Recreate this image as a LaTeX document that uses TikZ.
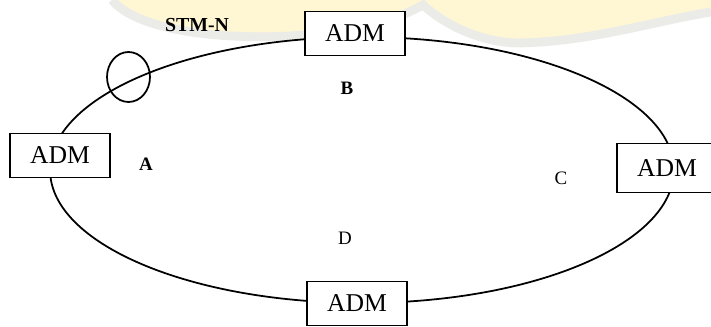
\documentclass[tikz,border=0pt]{standalone}
\usepackage{fontspec}
\setmainfont{Liberation Serif}
\usetikzlibrary{positioning, shapes, arrows}
\definecolor{paleyellow}{rgb}{1,0.965,0.83}
\definecolor{palegrey}{rgb}{0.92,0.92,0.91}

\begin{document}
\begin{tikzpicture}[x=0.02cm, y=-0.02cm]
\tikzstyle{adm}=[draw, fill=white, line width=1pt, minimum width=2cm, minimum height=0.88cm, inner sep=0pt, font=\fontsize{14.6}{16}\selectfont];
\tikzstyle{zone}=[inner sep=0pt, font=\fontsize{10.8}{12}\selectfont];
\tikzstyle{boldzone}=[inner sep=0pt, font=\fontsize{10.8}{12}\selectfont\bfseries];
\useasboundingbox (0,0) rectangle (711,327);
% faint banner in the background
\fill[paleyellow] (112,0) .. controls (135,28) and (210,40) .. (290,36)
  .. controls (360,32) and (400,18) .. (423,5)
  .. controls (445,25) and (480,42) .. (517,43)
  .. controls (590,42) and (650,22) .. (711,12) -- (711,0) -- cycle;
\draw[palegrey, line width=5pt] (112,0) .. controls (135,28) and (210,40) .. (290,36)
  .. controls (360,32) and (400,18) .. (423,5)
  .. controls (445,25) and (480,42) .. (517,43)
  .. controls (590,42) and (650,22) .. (711,12);
% the ring and its four multiplexers
\path (362,170) node[draw, ellipse, line width=1pt, minimum width=12.48cm, minimum height=5.32cm, inner sep=0pt] (ring) {};
\path (60,155.5) node[adm] (admA) {ADM};
\path (355,33.5) node[adm] (admB) {ADM};
\path (667,168) node[adm, minimum height=0.98cm] (admC) {ADM};
\path (357,303.5) node[adm] (admD) {ADM};
\path (128.5,77) node[draw, ellipse, line width=1pt, minimum width=0.86cm, minimum height=1cm, inner sep=0pt] (stm) {};
\path (197,25) node[boldzone, font=\fontsize{11.3}{12}\selectfont\bfseries] (stmlabel) {STM-N};
\path (146,164) node[boldzone] (zoneA) {A};
\path (347,88) node[boldzone] (zoneB) {B};
\path (561,178) node[zone] (zoneC) {C};
\path (345,238) node[zone] (zoneD) {D};
\end{tikzpicture}
\end{document}
